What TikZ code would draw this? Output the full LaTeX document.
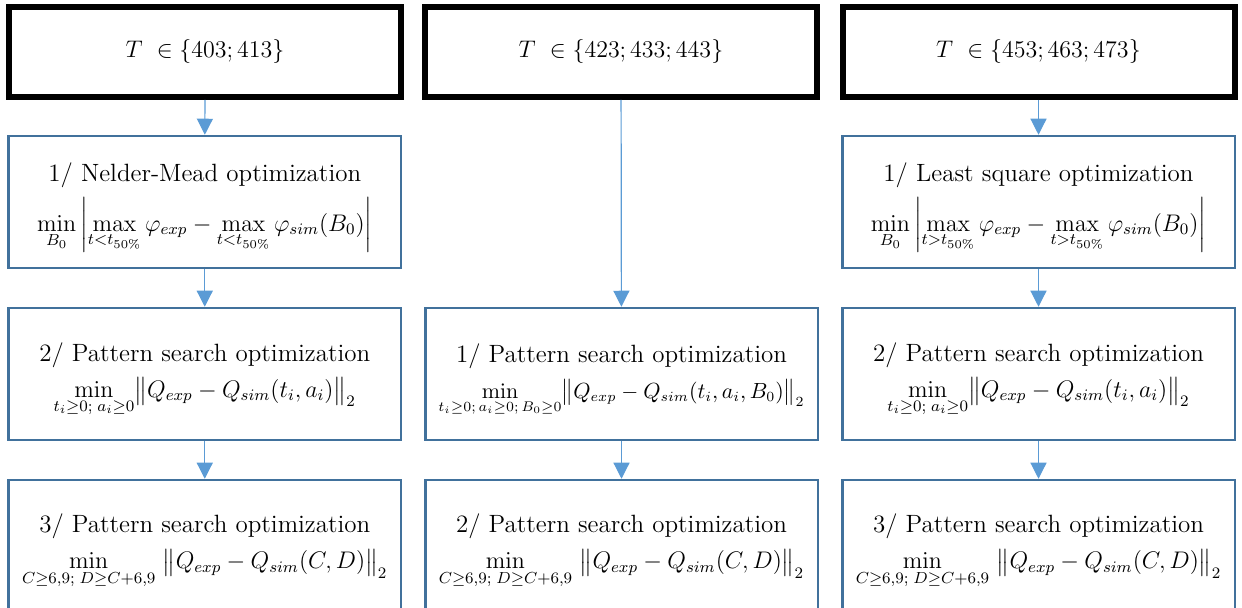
\documentclass[tikz,border=0pt]{standalone}
\usepackage{amsmath,amssymb}
\usetikzlibrary{arrows.meta}
\definecolor{boxblue}{RGB}{65,113,156}
\definecolor{arrowblue}{RGB}{91,155,213}
\newcommand{\optstep}[2]{\rule{0pt}{15pt}{\fontsize{12.5}{15}\selectfont #1}\\[4pt]#2}

\begin{document}
\begin{tikzpicture}[x=0.5pt, y=-0.5pt,
  tempbox/.style={draw, line width=3pt, minimum width=196pt, minimum height=45pt, inner sep=0pt, font=\fontsize{11.5}{14}\selectfont},
  optbox/.style={draw=boxblue, line width=1.25pt, minimum width=196.25pt, minimum height=66pt, inner sep=0pt, align=center, font=\fontsize{11.5}{14}\selectfont},
  flow/.style={arrowblue, line width=0.6pt, -{Triangle[width=8pt, length=8pt]}}]
\useasboundingbox (0,0) rectangle (1242,608);

% temperature ranges
\node[tempbox] (T1) at (205,52) {$T\ \in\{403;413\}$};
\node[tempbox] (T2) at (621,52) {$T\ \in\{423;433;443\}$};
\node[tempbox] (T3) at (1038.5,52) {$T\ \in\{453;463;473\}$};

% left column
\node[optbox] (A1) at (204.75,202) {\optstep{1/ Nelder-Mead optimization}
  {$\displaystyle\min_{B_0}\left|\max_{t<t_{50\%}}\varphi_{exp}-\max_{t<t_{50\%}}\varphi_{sim}(B_0)\right|$}};
\node[optbox] (B1) at (204.75,374) {\optstep{2/ Pattern search optimization}
  {$\displaystyle\min_{t_i\geq0;\;a_i\geq0}\bigl\|Q_{exp}-Q_{sim}(t_i,a_i)\bigr\|_2$}};
\node[optbox] (C1) at (204.75,546) {\optstep{3/ Pattern search optimization}
  {$\displaystyle\min_{C\geq6{,}9;\;D\geq C+6{,}9}\ \bigl\|Q_{exp}-Q_{sim}(C,D)\bigr\|_2$}};

% middle column
\node[optbox] (B2) at (621.5,374) {\optstep{1/ Pattern search optimization}
  {\fontsize{10.5}{13}\selectfont$\displaystyle\min_{t_i\geq0;\,a_i\geq0;\,B_0\geq0}\bigl\|Q_{exp}-Q_{sim}(t_i,a_i,B_0)\bigr\|_2$}};
\node[optbox] (C2) at (621.5,546) {\optstep{2/ Pattern search optimization}
  {$\displaystyle\min_{C\geq6{,}9;\;D\geq C+6{,}9}\ \bigl\|Q_{exp}-Q_{sim}(C,D)\bigr\|_2$}};

% right column
\node[optbox] (A3) at (1038.5,202) {\optstep{1/ Least square optimization}
  {$\displaystyle\min_{B_0}\left|\max_{t>t_{50\%}}\varphi_{exp}-\max_{t>t_{50\%}}\varphi_{sim}(B_0)\right|$}};
\node[optbox] (B3) at (1038.5,374) {\optstep{2/ Pattern search optimization}
  {$\displaystyle\min_{t_i\geq0;\;a_i\geq0}\bigl\|Q_{exp}-Q_{sim}(t_i,a_i)\bigr\|_2$}};
\node[optbox] (C3) at (1038.5,546) {\optstep{3/ Pattern search optimization}
  {$\displaystyle\min_{C\geq6{,}9;\;D\geq C+6{,}9}\ \bigl\|Q_{exp}-Q_{sim}(C,D)\bigr\|_2$}};

\draw[flow] (T1) -- (A1);
\draw[flow] (A1) -- (B1);
\draw[flow] (B1) -- (C1);
\draw[flow] (T2) -- (B2);
\draw[flow] (B2) -- (C2);
\draw[flow] (T3) -- (A3);
\draw[flow] (A3) -- (B3);
\draw[flow] (B3) -- (C3);
\end{tikzpicture}
\end{document}
